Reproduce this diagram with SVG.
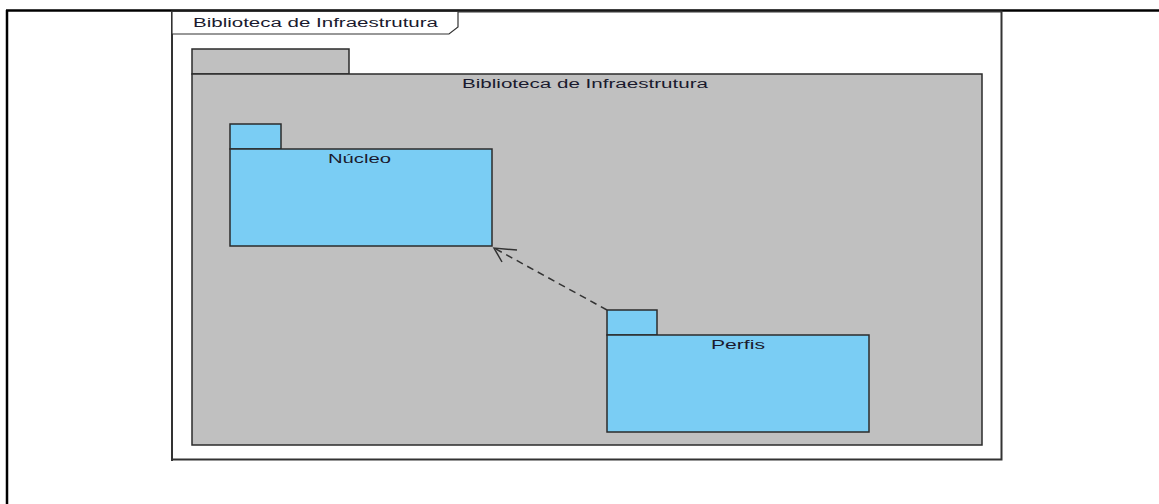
<svg xmlns="http://www.w3.org/2000/svg" width="1159" height="504" viewBox="0 0 1159 504">
  <style>
    .lbl { font-family: "Liberation Sans", Arial, sans-serif; font-size: 12px; fill: #1a1a2e; }
    .pkg-blue { fill: #7ACDF4; stroke: #2b2b2b; stroke-width: 1.5; }
    .pkg-gray { fill: #C0C0C0; stroke: #2b2b2b; stroke-width: 1.5; }
    .conn { fill: none; stroke: #333333; stroke-width: 1.5; }
  </style>

  <rect width="1159" height="504" fill="#ffffff"/>

  <!-- page border -->
  <g id="page-border">
    <line x1="6" y1="10.5" x2="1159" y2="10.5" stroke="#000" stroke-width="2.5"/>
    <line x1="7" y1="10" x2="7" y2="504" stroke="#000" stroke-width="2.5"/>
  </g>

  <!-- diagram frame -->
  <g id="frame">
    <polyline points="172,461 172,11.5 1001.5,11.5 1001.5,459.5 172,459.5" fill="none" stroke="#333" stroke-width="2"/>
    <polygon points="172,11.5 458,11.5 458,27 449,34 172,34" fill="#fff" stroke="#333" stroke-width="1.2"/>
    <text class="lbl" x="193" y="27" textLength="245" lengthAdjust="spacingAndGlyphs">Biblioteca de Infraestrutura</text>
  </g>

  <!-- outer package -->
  <g id="pkg-biblioteca">
    <rect class="pkg-gray" x="192" y="49" width="157" height="25"/>
    <rect class="pkg-gray" x="192" y="74" width="790" height="371"/>
    <text class="lbl" x="462" y="88" textLength="246" lengthAdjust="spacingAndGlyphs">Biblioteca de Infraestrutura</text>
  </g>

  <g id="pkg-nucleo">
    <rect class="pkg-blue" x="230" y="124" width="51" height="25"/>
    <rect class="pkg-blue" x="230" y="149" width="262" height="97"/>
    <text class="lbl" x="328" y="163" textLength="63" lengthAdjust="spacingAndGlyphs">Núcleo</text>
  </g>

  <g id="pkg-perfis">
    <rect class="pkg-blue" x="607" y="310" width="50" height="25"/>
    <rect class="pkg-blue" x="607" y="335" width="262" height="97"/>
    <text class="lbl" x="711" y="349" textLength="54" lengthAdjust="spacingAndGlyphs">Perfis</text>
  </g>

  <!-- dependency: Perfis -> Núcleo -->
  <g id="connectors">
    <line class="conn" x1="607" y1="310" x2="494" y2="248" stroke-dasharray="7,5"/>
    <polyline class="conn" points="517,250 494,248 502,262"/>
  </g>
</svg>
